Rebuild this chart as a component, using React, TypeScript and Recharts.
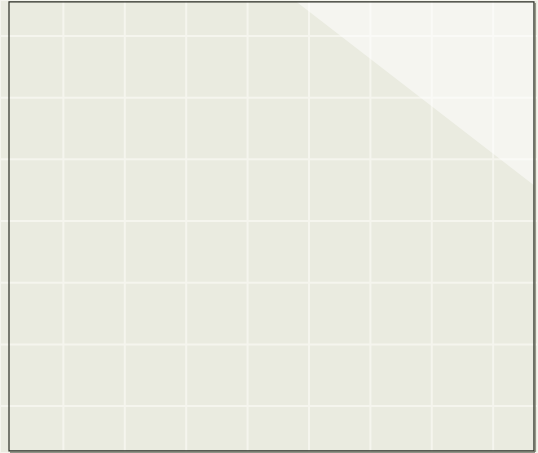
import { ComposedChart, Area, XAxis, YAxis, CartesianGrid, ReferenceArea, ReferenceLine } from 'recharts';

// grid ticks
const xTicks = [0, 1, 2, 3, 4, 5, 6, 7, 8];
const yTicks = [1, 2, 3, 4, 5, 6, 7];

// the pale wedge in the upper right
const wedgeX = [4.8, 8.664];
const wedgeY = [7.551, 4.58];

// the framed panel
const panelX = [0.114, 8.664];
const panelY = [0.274, 7.551];

const wedgeData = wedgeX.map((x, i) => ({ x, y: wedgeY[i] }));

// one pixel, in data units
const dx = 0.0163;
const dy = 0.0162;

export default function App() {
  return (
    <div style={{ position: 'absolute', left: 0, top: 0 }}>
      <ComposedChart width={538} height={453} data={wedgeData} margin={{ top: 0, right: 0, bottom: 0, left: 0 }}>
        <CartesianGrid fill="#EAEBE0" stroke="#F5F5EE" strokeWidth={2} />
        <XAxis type="number" dataKey="x" domain={[-0.0326, 8.73]} ticks={xTicks} allowDataOverflow hide />
        <YAxis type="number" domain={[0.24, 7.583]} ticks={yTicks} allowDataOverflow hide />
        <Area
          type="linear"
          dataKey="y"
          baseValue={panelY[1]}
          stroke="none"
          fill="#FFFFFF"
          fillOpacity={0.5}
          dot={false}
          activeDot={false}
          isAnimationActive={false}
        />
        {/* soft shadow on the right and bottom edges only */}
        <ReferenceLine
          segment={[
            { x: panelX[1] + dx, y: panelY[1] - dy },
            { x: panelX[1] + dx, y: panelY[0] - dy },
          ]}
          stroke="#6E7264"
          strokeWidth={1.5}
          ifOverflow="visible"
        />
        <ReferenceLine
          segment={[
            { x: panelX[0] + dx, y: panelY[0] - dy },
            { x: panelX[1] + dx, y: panelY[0] - dy },
          ]}
          stroke="#6E7264"
          strokeWidth={1.5}
          ifOverflow="visible"
        />
        <ReferenceArea
          x1={panelX[0]}
          x2={panelX[1]}
          y1={panelY[0]}
          y2={panelY[1]}
          fill="none"
          stroke="#2A2D24"
          strokeWidth={1.2}
          ifOverflow="visible"
        />
      </ComposedChart>
    </div>
  );
}
